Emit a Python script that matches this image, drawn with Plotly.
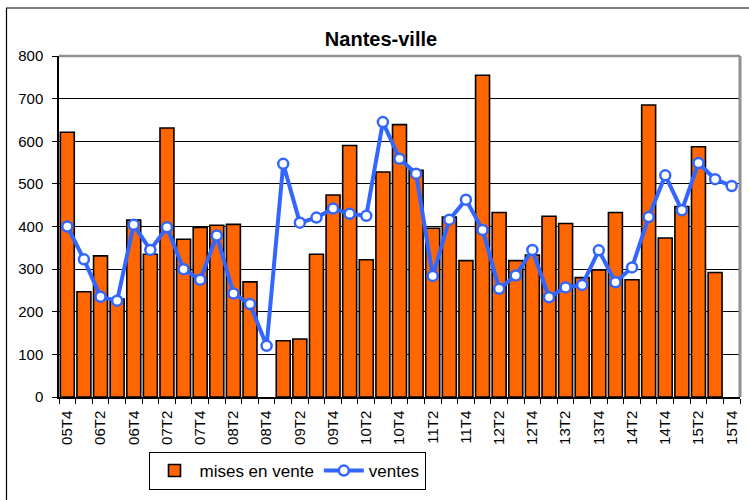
import plotly.graph_objects as go

quarters = ["05T4", "06T1", "06T2", "06T3", "06T4", "07T1", "07T2", "07T3", "07T4",
            "08T1", "08T2", "08T3", "08T4", "09T1", "09T2", "09T3", "09T4",
            "10T1", "10T2", "10T3", "10T4", "11T1", "11T2", "11T3", "11T4",
            "12T1", "12T2", "12T3", "12T4", "13T1", "13T2", "13T3", "13T4",
            "14T1", "14T2", "14T3", "14T4", "15T1", "15T2", "15T3", "15T4"]

mises_en_vente = [621, 247, 331, 230, 415, 335, 631, 370, 398, 403, 405, 270, None,
                  132, 136, 335, 474, 590, 322, 528, 639, 532, 396, 422, 320,
                  755, 433, 320, 333, 424, 407, 280, 298, 433, 275, 685, 373,
                  447, 587, 292, None]

ventes = [400, 323, 235, 226, 404, 345, 398, 300, 275, 379, 243, 218, 120,
          547, 409, 421, 442, 430, 425, 645, 559, 524, 284, 416, 463,
          392, 254, 285, 345, 234, 257, 263, 344, 269, 304, 422, 520,
          438, 549, 511, 495]

tick_labels = [q if i % 2 == 0 else "" for i, q in enumerate(quarters)]

FONT = "Liberation Sans, Arial, sans-serif"

fig = go.Figure()
fig.add_trace(go.Bar(
    x=quarters, y=mises_en_vente, name="mises en vente",
    marker=dict(color="#FF6600", line=dict(color="black", width=1.6)),
))
fig.add_trace(go.Scatter(
    x=quarters, y=ventes, name="ventes", mode="lines+markers",
    line=dict(color="#3366FF", width=4),
    marker=dict(size=10, color="white", line=dict(color="#3366FF", width=2.5)),
))

L, R, T, B = 59, 9, 56, 103
W, H = 749, 500
pw, ph = W - L - R, H - T - B

def px(xp):
    return (xp - L) / pw

def py(yp):
    return (H - B - yp) / ph

fig.update_layout(
    width=W, height=H,
    margin=dict(l=L, r=R, t=T, b=B),
    paper_bgcolor="white", plot_bgcolor="white",
    font=dict(family=FONT, color="black"),
    title=dict(text="<b>Nantes-ville</b>", x=381 / W, xref="container",
               y=1 - 39 / H, yref="container", xanchor="center", yanchor="middle",
               font=dict(size=20, family=FONT, color="black")),
    bargap=0.16,
    showlegend=True,
    legend=dict(orientation="h", x=px(287), xanchor="center", y=py(452), yanchor="top",
                bordercolor="black", borderwidth=1, bgcolor="white",
                font=dict(size=17, family=FONT), itemwidth=40,
                tracegroupgap=0),
    xaxis=dict(
        type="category", tickmode="array", tickvals=quarters, ticktext=tick_labels,
        tickangle=-90, tickfont=dict(size=15, family=FONT),
        ticks="outside", ticklen=5, tickcolor="black", tickson="boundaries",
        ticklabelstandoff=6,
        showline=True, linecolor="black", linewidth=1.5, showgrid=False,
        range=[-0.5, len(quarters) - 0.5],
    ),
    yaxis=dict(
        range=[0, 800], dtick=100, tickfont=dict(size=15, family=FONT),
        ticks="outside", ticklen=5, tickcolor="black", ticklabelstandoff=6,
        showline=True, linecolor="black", linewidth=1.5,
        showgrid=True, gridcolor="black", gridwidth=1, zeroline=False,
    ),
    shapes=[
        dict(type="line", xref="paper", yref="paper", x0=0, x1=1, y0=1, y1=1,
             line=dict(color="#909090", width=2.5)),
        dict(type="line", xref="paper", yref="paper", x0=1, x1=1, y0=0, y1=1,
             line=dict(color="#909090", width=3)),
        dict(type="rect", xref="paper", yref="paper",
             x0=px(6.5), x1=px(770), y0=py(520), y1=py(8),
             line=dict(color="black", width=1.2)),
    ],
)

fig.write_html("out.html", config={"displayModeBar": False},
               post_script="document.body.style.margin='0';document.body.style.overflow='hidden';")
